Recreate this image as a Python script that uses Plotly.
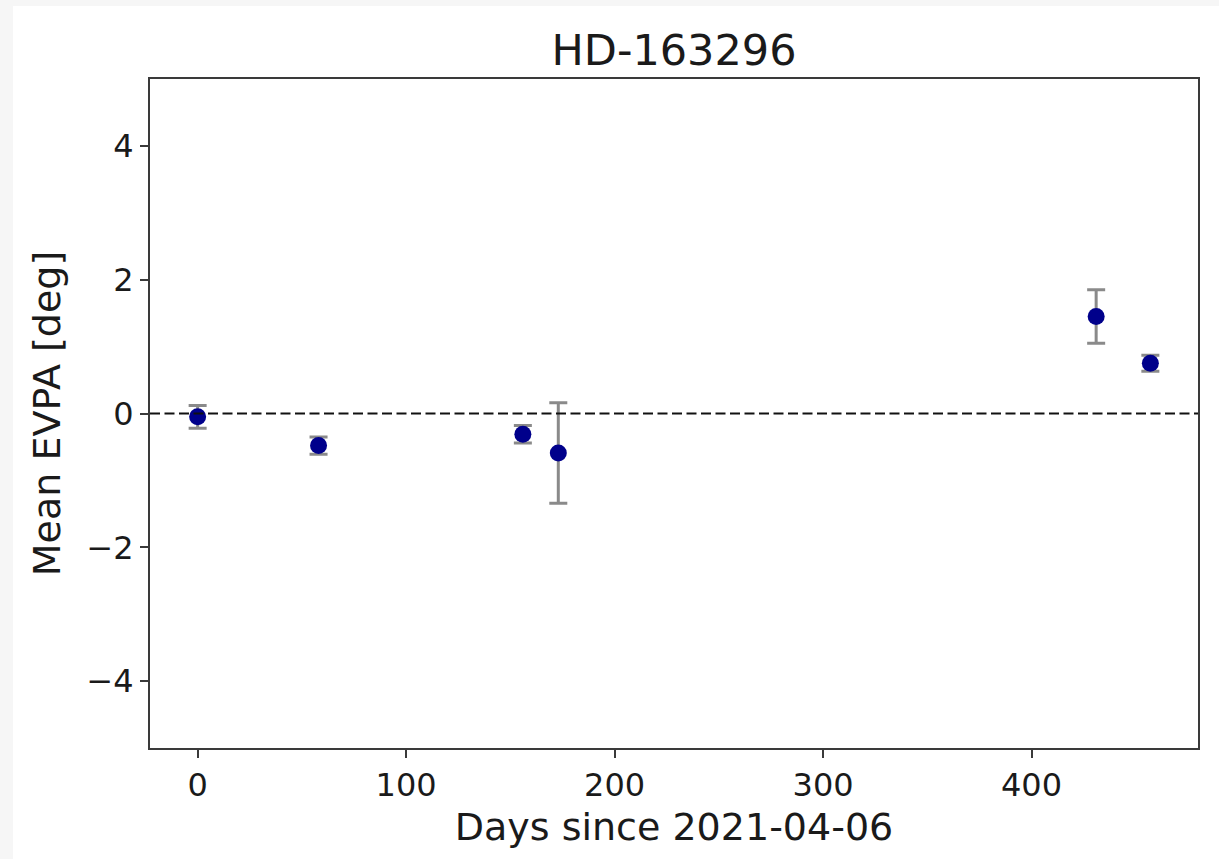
import plotly.graph_objects as go

# Mean EVPA per epoch for HD-163296
days = [0, 58, 156, 173, 431, 457]
evpa = [-0.05, -0.48, -0.31, -0.59, 1.45, 0.75]
evpa_err = [0.17, 0.13, 0.13, 0.75, 0.40, 0.12]

x_ticks = [0, 100, 200, 300, 400]
y_ticks = [-4, -2, 0, 2, 4]

W, H = 1219, 859
L, R, T, B = 150, 21, 79, 111
pw, ph = W - L - R, H - T - B

FONT = "DejaVu Sans"
AX = "#3a3a3a"

fig = go.Figure()

fig.add_trace(go.Scatter(
    x=days, y=evpa,
    mode="markers",
    marker=dict(color="#00008b", size=17, line=dict(width=0)),
    error_y=dict(type="data", array=evpa_err, visible=True,
                 color="#8a8a8a", thickness=3, width=9),
    showlegend=False,
))

# zero reference line
fig.add_shape(type="line", xref="paper", yref="y", x0=0, x1=1, y0=0, y1=0,
              line=dict(color="#111111", width=2, dash="10px,4.5px"), layer="above")

# white card over the light-grey page
fig.add_shape(type="rect", xref="paper", yref="paper",
              x0=(13 - L) / pw, x1=(W + 5 - L) / pw,
              y0=(T + ph - H - 5) / ph, y1=(T + ph - 6) / ph,
              fillcolor="white", line=dict(width=0), layer="below")

axis_common = dict(
    showline=True, linecolor=AX, linewidth=2, mirror=True,
    ticks="outside", ticklen=8, tickwidth=2, tickcolor=AX,
    showgrid=False, zeroline=False,
    tickfont=dict(family=FONT, size=32, color="#1a1a1a"),
    automargin=False,
)

fig.update_xaxes(
    range=[-22.85, 479.85], tickmode="array", tickvals=x_ticks,
    ticktext=[str(v) for v in x_ticks],
    title=dict(text="Days since 2021-04-06", standoff=10,
               font=dict(family=FONT, size=38, color="#1a1a1a")),
    **axis_common,
)
fig.update_yaxes(
    range=[-5, 5], tickmode="array", tickvals=y_ticks,
    ticktext=[("\u2212" + str(abs(v))) if v < 0 else str(v) for v in y_ticks],
    title=dict(text="Mean EVPA [deg]", standoff=14,
               font=dict(family=FONT, size=38, color="#1a1a1a")),
    **axis_common,
)

fig.update_layout(
    width=W, height=H,
    margin=dict(l=L, r=R, t=T, b=B, pad=0),
    paper_bgcolor="#f6f6f6", plot_bgcolor="white",
    title=dict(text="HD-163296", x=(L + pw / 2) / W, xanchor="center",
               y=1 - 50 / H, yanchor="middle", yref="container",
               font=dict(family=FONT, size=43, color="#1a1a1a")),
    font=dict(family=FONT),
)

fig.write_html("out.html")
